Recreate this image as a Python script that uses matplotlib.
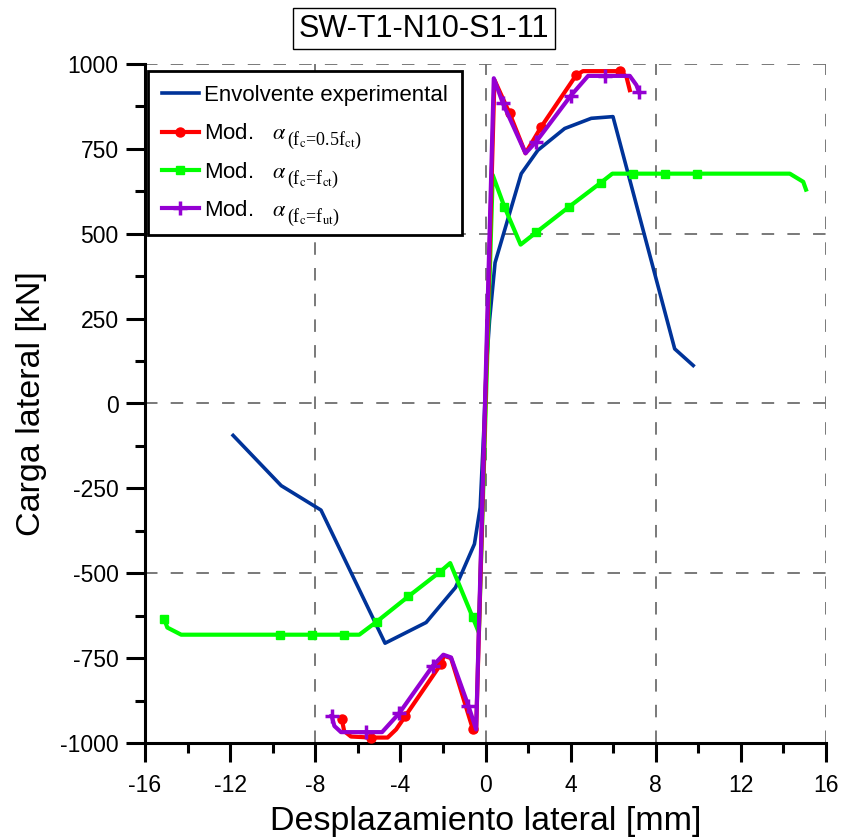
import numpy as np
import matplotlib
matplotlib.use("Agg")
import matplotlib.pyplot as plt
from matplotlib.ticker import MultipleLocator
from matplotlib.transforms import IdentityTransform

plt.rcParams["font.family"] = ["Liberation Sans", "DejaVu Sans"]
plt.rcParams["mathtext.fontset"] = "stix"
plt.rcParams["axes.unicode_minus"] = False
plt.rcParams["lines.scale_dashes"] = False

# Experimental envelope
exp_x = [-11.86, -9.6, -7.73, -4.72, -2.79, -1.41, -0.52, -0.25, -0.08, 0.03,
         0.19, 0.45, 1.68, 2.46, 3.72, 4.97, 5.99, 8.89, 9.76]
exp_y = [-94, -242, -314, -706, -645, -542, -414, -306, -80, 97,
         245, 415, 677, 746, 810, 840, 845, 161, 112]

# Model, alpha with fc = 0.5 fct
m1_x = [-6.76, -6.64, -6.32, -5.38, -4.6, -4.2, -3.76, -2.08, -1.96, -1.62, -0.6,
        -0.44, 0.42, 1.13, 1.88, 2.62, 4.27, 4.58, 6.31, 6.62, 6.78]
m1_y = [-928, -965, -981, -984, -984, -960, -920, -766, -743, -750, -958,
        -965, 953, 855, 737, 815, 968, 979, 979, 963, 923]
m1_marks = [0, 3, 6, 7, 10, 13, 15, 16, 18]

# Model, alpha with fc = fct
m2_x = [-15.1, -14.95, -14.3, -9.66, -8.13, -6.64, -5.93, -5.12, -3.62, -2.12, -1.66,
        -0.6, -0.31, 0.34, 0.89, 1.65, 2.38, 3.92, 5.41, 5.96, 6.93, 8.42, 9.94,
        14.3, 14.93, 15.06]
m2_y = [-635, -660, -681, -681, -681, -681, -681, -643, -568, -495, -470,
        -630, -675, 673, 579, 468, 504, 579, 650, 677, 677, 677, 677,
        677, 653, 630]
m2_marks = [0, 3, 4, 5, 7, 8, 9, 11, 14, 16, 17, 18, 20, 21, 22]

# Model, alpha with fc = fut
m3_x = [-7.23, -7.1, -6.79, -5.61, -4.86, -4.05, -2.48, -1.98, -1.62, -0.8, -0.44,
        0.39, 0.82, 1.88, 2.38, 4.0, 4.82, 5.63, 6.78, 7.09, 7.21]
m3_y = [-920, -950, -968, -968, -968, -912, -773, -740, -748, -891, -960,
        958, 884, 737, 771, 906, 965, 965, 965, 938, 918]
m3_marks = [0, 3, 5, 6, 9, 12, 14, 15, 17, 20]

# Subscripts of alpha for each model, written next to the legend entries
model_subs = [r"(f$_\mathrm{c}$=0.5f$_\mathrm{ct}$)",
              r"(f$_\mathrm{c}$=f$_\mathrm{ct}$)",
              r"(f$_\mathrm{c}$=f$_\mathrm{ut}$)"]

x_ticks = np.arange(-16, 17, 4)
y_ticks = np.arange(-1000, 1001, 250)
grid_x = [-8, 0, 8, 16]
grid_y = [-500, 0, 500, 1000]

fig = plt.figure(figsize=(8.43, 8.38), dpi=100)
ax = fig.add_axes([145 / 843, 1 - 743 / 838, (826 - 145) / 843, (743 - 64) / 838])

grid_style = dict(color="#6e6e6e", lw=1.3, linestyle=(0, (9, 9.5)), zorder=1)
for gx in grid_x:
    ax.axvline(gx, **grid_style)
for gy in grid_y:
    ax.axhline(gy, **grid_style)

ax.plot(exp_x, exp_y, color="#003399", lw=2.6, label="Envolvente experimental", zorder=3)
ax.plot(m1_x, m1_y, color="#ff0000", lw=3.0, marker="o", ms=6.5, markevery=m1_marks,
        label=r"Mod.   $\alpha$", zorder=4)
ax.plot(m2_x, m2_y, color="#00ff00", lw=3.0, marker="s", ms=6, markevery=m2_marks,
        label=r"Mod.   $\alpha$", zorder=3)
ax.plot(m3_x, m3_y, color="#9400d3", lw=3.0, marker="+", ms=10, mew=2.5,
        markevery=m3_marks, label=r"Mod.   $\alpha$", zorder=5)

ax.set_xlim(-16, 16)
ax.set_ylim(-1000, 1000)
ax.set_xticks(x_ticks)
ax.set_yticks(y_ticks)
ax.xaxis.set_minor_locator(MultipleLocator(2))
ax.yaxis.set_minor_locator(MultipleLocator(125))
ax.tick_params(which="major", direction="out", length=13.5, width=2.2, labelsize=16.5)
ax.tick_params(axis="x", which="major", pad=8.5)
ax.tick_params(axis="y", which="major", pad=5.5)
ax.tick_params(which="minor", direction="out", length=7, width=2.2)
for side in ("top", "right"):
    ax.spines[side].set_visible(False)
for side in ("left", "bottom"):
    ax.spines[side].set_linewidth(2.2)

ax.set_xlabel("Desplazamiento lateral [mm]", fontsize=24.5, labelpad=7)
ax.set_ylabel("Carga lateral [kN]", fontsize=24.5, labelpad=9)

leg = ax.legend(loc="upper left", bbox_to_anchor=(148 / 843, 1 - 71 / 838),
                bbox_transform=fig.transFigure, borderaxespad=0, fontsize=16,
                frameon=True, fancybox=False, framealpha=1, edgecolor="black",
                handlelength=1.65, handletextpad=0.25, labelspacing=0.78, borderpad=0.63)
leg.get_frame().set_linewidth(2.0)
leg.set_zorder(6)

fig.text(424 / 843, 1 - 29 / 838, "SW-T1-N10-S1-11", fontsize=22, ha="center", va="center",
         bbox=dict(boxstyle="square,pad=0.18", facecolor="white", edgecolor="black", lw=1.0))

# alpha subscripts, set in a serif face beside each model entry
fig.canvas.draw()
for txt, sub in zip(leg.get_texts()[1:], model_subs):
    bb = txt.get_window_extent()
    fig.text(bb.x1 + 1, (bb.y0 + bb.y1) / 2 - 7, sub, transform=IdentityTransform(),
             fontsize=13, family="Liberation Serif", ha="left", va="center", zorder=7)

fig.savefig("out.png", dpi=100)
